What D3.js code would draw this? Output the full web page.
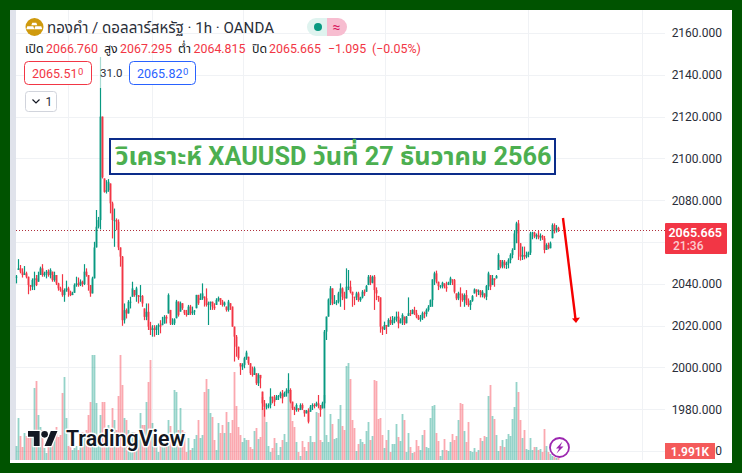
<!DOCTYPE html>
<html><head><meta charset="utf-8">
<style>
html,body{margin:0;padding:0;background:#005300;}
svg{display:block;}
text{font-family:Roboto,"Noto Sans","Noto Sans Thai",sans-serif;}
</style>
<script src="https://cdn.jsdelivr.net/npm/d3@7"></script>
</head><body>
<svg id="c" width="742" height="473"></svg>
<script>
const priceTicks=[2160,2140,2120,2100,2080,2060,2040,2020,2000,1980,1960];
const labelTicks=[2160,2140,2120,2100,2080,2040,2020,2000,1980,1960];
const gridSlots=[25.75,67.75,113.25,184.25,255.75,312.75];
const highs=[
2044.2,2051.8,2049,2047.4,2048.5,2045.8,2043.4,2039.4,2042.6,2045.8,
2044.2,2045.8,2048.2,2049.4,2045.8,2046.6,2046.9,2047.4,2045.8,2045.8,
2044.2,2040.5,2038.6,2044.6,2037.8,2041.5,2038.6,2036.7,2036.2,2040.2,
2043.4,2043,2042.1,2041.5,2049.4,2047.4,2044.2,2039.4,2043.4,2060.1,
2075.3,2072,2148.5,2120,2090.4,2089.6,2090.1,2088,2079.3,2076,
2071.3,2070.8,2057.4,2053.3,2030.6,2028.2,2032.2,2033.8,2041,2037,
2038.6,2034.6,2039.4,2034.6,2028.2,2030.6,2030.6,2021.8,2020.2,2020.2,
2020.2,2021,2022.6,2024.2,2025,2025,2035.4,2027.5,2023.5,2023.5,
2032.3,2031.5,2031.5,2030.7,2027.5,2027.5,2029.9,2029.9,2029.1,2027.5,
2034.7,2034.7,2035.4,2040.2,2033.9,2037.8,2031.5,2031.5,2031.5,2030.7,
2033.1,2033.9,2033.1,2032.3,2031.5,2029.1,2032.3,2030.7,2029.1,2019.5,
2015.5,2009.9,2002,2002,2005.1,2008,2005.1,2002,2000.4,2000.4,
1997.2,1997.2,1996.4,1988.4,1984.4,1982.8,1982.8,1990,1986,1986.8,
1986.8,1986.8,1988.4,1989.2,1988.4,1990,1997.2,1990,1983.6,1981.2,
1982.8,1980.4,1982.8,1982.8,1979.6,1979.6,1980.4,1982,1982.8,1982.8,
1983.6,1986.8,1982,1983.6,2017.9,2024.3,2033,2038.9,2037.8,2034.6,
2032.2,2036.2,2040.2,2038.3,2036.2,2047.4,2046.6,2041.5,2036.2,2033.8,
2036.2,2036.2,2033.8,2037,2037.3,2039.4,2044.2,2044.2,2043.9,2044.2,
2038.3,2034.2,2033.5,2019.5,2021.9,2020.3,2023.5,2024.3,2024.6,2024.3,
2026.7,2026.7,2023.5,2025.9,2024.3,2024.6,2033.5,2027.5,2027.8,2029,
2027.5,2025.1,2025.1,2026.7,2026.7,2028.2,2029.8,2032.5,2042.1,2045.8,
2046.3,2041,2039.4,2041,2040.2,2041,2041,2043.4,2042.1,2042.3,
2035.4,2036.2,2038.3,2035.4,2035.4,2037,2033,2032.2,2034.6,2037.8,
2037.3,2037.3,2037,2037,2035.4,2039.4,2045.8,2044.2,2044.2,2042.6,
2044.2,2054.6,2051.4,2051.4,2051.4,2050.6,2052.2,2054.6,2057,2065.7,
2069.7,2070.5,2059.4,2057.8,2057.8,2055.4,2055.4,2064.9,2064.9,2064.9,
2064.1,2065.4,2064.1,2063.4,2062.9,2059.4,2059.7,2060.2,2068.9,2068.9,2068.1,2067.295];
const lows=[
2040.2,2046.6,2045,2043,2044.2,2042.6,2035,2036.7,2037,2037,
2038.9,2041,2044.2,2043.4,2043.4,2042.6,2043.4,2042.6,2041,2041,
2039.4,2036.7,2036.2,2033.8,2031.4,2036.2,2033.8,2034.1,2034.6,2035.7,
2038.6,2038.6,2038.9,2038.6,2039.4,2043.4,2036.7,2033.8,2035.4,2042.6,
2057.4,2066.5,2066,2090.4,2083.6,2083.2,2084,2073.7,2061.7,2057.7,
2065.7,2056.1,2048.2,2019.9,2021,2023.4,2025.8,2028.2,2033.8,2033.8,
2031.4,2030.6,2031.4,2029,2022.6,2022.6,2017.9,2015.5,2014.7,2014.7,
2015.5,2015.5,2016.3,2020.2,2021,2021,2025.8,2020.3,2020.3,2020.3,
2023.5,2024.3,2026.7,2027.5,2025.1,2024.3,2025.1,2025.1,2025.1,2025.1,
2028.3,2029.9,2032.3,2032.3,2029.1,2029.1,2020.3,2027.5,2027.5,2027.5,
2029.9,2031.5,2029.9,2029.1,2029.1,2026.7,2026.7,2027.5,2019.5,2002.8,
2005.1,2003.6,1996.4,1998.8,1999.6,2003.6,2001.2,1996.4,1995.6,1996.4,
1991.6,1991.1,1990,1979.6,1976.4,1979.9,1980.4,1980.4,1982.8,1981.5,
1984.4,1984.4,1985.2,1982.8,1986,1986,1987.6,1982.8,1979.6,1977.2,
1978.8,1978.8,1979.6,1979.6,1976.4,1978,1973.2,1978.8,1979.6,1980.4,
1981.2,1980.4,1976.4,1980.4,1980.4,2013.1,2024.3,2029.8,2029.8,2030.3,
2029.8,2030.6,2029,2032.2,2027.5,2033,2037,2035.4,2029,2029.8,
2032.2,2031.4,2031.4,2033,2034.2,2036.2,2039.4,2039.4,2040.2,2027.5,
2032.2,2031.4,2016.6,2015.5,2017.9,2016,2019.5,2020.3,2020.3,2021.1,
2021.9,2018.7,2021.1,2020.3,2020.3,2021.1,2024.6,2024.6,2025.5,2025.1,
2023.5,2022.7,2021.9,2022.7,2023.5,2024.3,2026.7,2029,2029,2039.4,
2040.2,2037,2037.8,2037.8,2037.8,2036.2,2039.4,2039.4,2039.4,2035.4,
2032.2,2032.2,2029,2031.4,2029,2029.8,2029,2027.5,2031.4,2035.4,
2033.8,2034.6,2033.5,2033.5,2033,2032.2,2037,2037,2039.4,2038.6,
2042.6,2046.6,2047.4,2047.4,2047.4,2047.1,2047.4,2049.8,2052.2,2056.2,
2059.4,2051.4,2051.1,2051.4,2051.7,2052.2,2052.7,2053.8,2061.3,2061.8,
2061.3,2061.3,2060.6,2061,2054.6,2056.2,2056.5,2057,2061.8,2064.1,2064.5,2064.815];
const closes=[
2043.4,2047.4,2045.8,2044.2,2045,2043.4,2039.4,2038.6,2041.8,2042.6,
2039.4,2044.2,2047.4,2044.2,2045,2045.8,2044.2,2046.6,2041.8,2044.2,
2040.2,2037.8,2037,2034.6,2037,2037.8,2036.2,2034.6,2035.4,2039.4,
2040.2,2039.4,2041,2039.9,2045.8,2044.2,2039.4,2035.4,2042.6,2057.4,
2067.3,2070.5,2120,2091,2084,2084.8,2088.8,2078.5,2070.5,2070.5,
2069.7,2057.4,2053,2022.6,2027.4,2025.8,2031.4,2031.4,2037.8,2034.6,
2037.8,2033.8,2034.1,2030.6,2024.2,2026.6,2019.5,2017.9,2018.7,2017.9,
2019.5,2020.2,2019.5,2021,2024.2,2023.4,2034.6,2021.1,2021.1,2023,
2031.5,2025.1,2030.7,2028.3,2025.9,2025.1,2029.1,2025.9,2026.7,2027.2,
2034.7,2030.7,2033.1,2035.4,2033.1,2029.9,2030.7,2031.4,2029.1,2028.3,
2032.3,2033.1,2031.5,2029.9,2031,2027.5,2031.5,2029.1,2019.5,2014.7,
2009.9,2004.4,2000.4,2001.2,2004.4,2007.1,2002,1997.2,1996.4,1999.6,
1992.4,1996.4,1994.8,1982.8,1981.2,1981.2,1982,1986,1985.2,1983.6,
1986,1986.3,1987.6,1985.2,1987.6,1988.9,1989.2,1983.6,1980.4,1979.6,
1982,1979.6,1982,1980.4,1978,1979.3,1974,1981.2,1982,1981.5,
1982.8,1982,1979.6,1982.8,2017.1,2024.3,2032.5,2037.8,2030.6,2031,
2031.4,2035.4,2037.8,2033.8,2033,2038.6,2038.6,2036.2,2034.6,2033.5,
2035.4,2032.2,2033.5,2036.2,2035.4,2038.9,2043.4,2040.5,2043.4,2037,
2035.4,2033.5,2019.5,2018.2,2020.3,2019.5,2022.7,2021.1,2022.7,2023.5,
2024.3,2021.1,2022.7,2025.1,2021.1,2024.3,2025.9,2025.5,2027.5,2025.9,
2024.3,2023,2023.5,2025.9,2025.5,2027.5,2029,2032.2,2042.1,2045,
2041,2038.9,2038.9,2040.5,2038.6,2037.8,2040.5,2042.6,2041.8,2036.2,
2033,2035.4,2034.6,2032.2,2034.6,2030.6,2029.8,2031.9,2034.1,2037.3,
2036.2,2036.7,2034.6,2036.2,2033.8,2038.9,2045,2038.6,2042.6,2041.8,
2043.7,2053.8,2048.2,2050.6,2049,2049.8,2051.4,2053.8,2056.2,2064.1,
2068.9,2059.4,2053,2053.8,2053,2053.8,2054.9,2064.1,2064.5,2062.6,
2063.4,2062.2,2062.9,2061.8,2056.2,2058.6,2057,2059.4,2068.1,2065.4,2066.76,2065.665];
const volumes=[
14,42,24,13,27,24,27,25,24,72,
79,45,33,30,12,7,20,23,22,25,
33,23,25,67,83,42,14,15,10,12,
14,10,15,28,25,30,45,58,105,105,
57,25,45,58,58,14,35,25,52,40,
30,64,105,75,42,40,30,26,28,28,
12,20,47,35,35,58,78,100,37,20,
14,8,15,25,15,18,40,34,25,70,
68,30,52,30,28,8,22,10,12,21,
25,40,22,25,68,81,71,47,43,20,
10,37,27,35,27,48,38,27,40,88,
54,33,25,18,22,20,20,13,11,29,
32,21,23,63,52,38,14,8,12,22,
17,5,13,20,26,18,80,70,39,33,
18,8,4,19,13,9,18,24,18,18,
48,47,20,18,65,25,18,46,36,21,
22,41,55,34,30,94,97,81,40,32,
9,16,21,18,16,29,38,20,24,80,
79,41,42,25,12,20,30,8,16,16,
36,23,19,46,40,8,27,13,7,8,
20,14,10,25,30,13,12,42,54,55,
27,19,4,10,21,10,9,18,26,20,
24,40,57,56,29,18,38,9,8,12,
8,10,22,19,24,23,64,75,44,41,
25,9,14,20,13,21,26,24,41,53,
78,68,40,22,30,11,10,22,10,13,
13,10,11,8,31,14,8,6,4,3,2,1.991];
const firstOpen=2043.0;
const lastPrice=2065.665;

const UP="#089981",DOWN="#f23645";
const svg=d3.select("#c");
const FONT='Roboto,"Noto Sans","Noto Sans Thai",sans-serif';

svg.append("rect").attr("width",742).attr("height",473).attr("fill","#005300");
svg.append("rect").attr("x",10).attr("y",10).attr("width",722).attr("height",453).attr("fill","#fff");
svg.append("rect").attr("x",10).attr("y",10).attr("width",6).attr("height",450).attr("fill","#e0e3eb");

const x=d3.scaleLinear().domain([0,closes.length-1]).range([16.5,558.5]);
const y=d3.scaleLinear().domain([1960,2160]).range([451,33]);
const yVol=d3.scaleLinear().domain([0,110]).range([460,350]);
const PLOT_R=665;

// grid
const grid=svg.append("g").attr("stroke","#f0f2f5").attr("stroke-width",1);
grid.selectAll(".h").data(priceTicks).join("line").attr("x1",16).attr("x2",PLOT_R)
  .attr("y1",d=>Math.round(y(d))+.5).attr("y2",d=>Math.round(y(d))+.5);
grid.selectAll(".v").data(gridSlots).join("line").attr("y1",10).attr("y2",460)
  .attr("x1",d=>Math.round(x(d))+.5).attr("x2",d=>Math.round(x(d))+.5);

const opens=closes.map((c,i)=>i?closes[i-1]:firstOpen);
const isUp=i=>closes[i]>=opens[i];

// volume
svg.append("g").selectAll("rect").data(volumes).join("rect")
  .attr("x",(d,i)=>x(i)-.9).attr("width",1.8)
  .attr("y",d=>yVol(d)).attr("height",d=>yVol(0)-yVol(d))
  .attr("fill",(d,i)=>isUp(i)?"rgba(8,153,129,.43)":"rgba(247,82,95,.5)");

// last price line
const lpY=Math.round(y(lastPrice))+.5;
svg.append("line").attr("x1",16).attr("x2",PLOT_R).attr("y1",lpY).attr("y2",lpY)
  .attr("stroke","#b0303c").attr("stroke-width",1).attr("stroke-dasharray","1 2");

// candles
const cg=svg.append("g");
cg.selectAll("line").data(closes).join("line")
  .attr("x1",(d,i)=>x(i)).attr("x2",(d,i)=>x(i))
  .attr("y1",(d,i)=>y(highs[i])).attr("y2",(d,i)=>y(lows[i]))
  .attr("stroke",(d,i)=>isUp(i)?UP:DOWN).attr("stroke-width",1.2);
const clampP=(v,i)=>Math.min(highs[i],Math.max(lows[i],v));
cg.selectAll("rect").data(closes).join("rect")
  .attr("x",(d,i)=>x(i)-.9).attr("width",1.8)
  .attr("y",(d,i)=>y(clampP(Math.max(opens[i],closes[i]),i)))
  .attr("height",(d,i)=>Math.max(.8,y(clampP(Math.min(opens[i],closes[i]),i))-y(clampP(Math.max(opens[i],closes[i]),i))))
  .attr("fill",(d,i)=>isUp(i)?UP:DOWN);

// price axis: 2060 sits fully behind the price label, 1960 shows only its last digit
const fmt=d3.format(".3f");
const axis=d3.axisRight(y).tickValues(labelTicks).tickSize(0).tickPadding(0)
  .tickFormat(d=>d===1960?fmt(d).slice(-1):fmt(d));
const ag=svg.append("g").attr("transform","translate(722,0)").call(axis);
ag.select(".domain").remove();
ag.selectAll("text").attr("text-anchor","end").attr("x",0).attr("fill","#2a2e39")
  .style("font-family",FONT).style("font-size","12px");

// last price label
svg.append("rect").attr("x",665).attr("y",223).attr("width",62).attr("height",31).attr("rx",1).attr("fill",DOWN);
svg.append("text").attr("x",722).attr("y",236.5).attr("text-anchor","end").attr("fill","#fff").attr("font-size",12.5).attr("font-weight",600).text("2065.665");
svg.append("text").attr("x",673).attr("y",250).attr("fill","#fff").attr("fill-opacity",.75).attr("font-size",12).attr("font-weight",500).text("21:36");
// volume label
svg.append("rect").attr("x",665).attr("y",443).attr("width",50).attr("height",16).attr("fill","#f45a5a");
svg.append("text").attr("x",690).attr("y",455.5).attr("text-anchor","middle").attr("fill","#fff").attr("font-size",12).attr("font-weight",600).text("1.991K");

// legend veil over spike
svg.append("rect").attr("x",98).attr("y",57).attr("width",26).attr("height",31).attr("fill","#fff").attr("fill-opacity",.65);

// header
svg.append("circle").attr("cx",34.5).attr("cy",27).attr("r",9).attr("fill","#cf9a0e");
svg.append("path").attr("d","M32.5 22.5h4l1 2.5h-6zM27.5 26h6l1 3h-8zM35.5 26h6l1 3h-8z").attr("transform","translate(-.2,.3)").attr("fill","#fff");
svg.append("text").attr("x",47).attr("y",33).attr("font-size",15.1).attr("fill","#2a2e39").text("ทองคำ / ดอลลาร์สหรัฐ · 1h · OANDA");
svg.append("path").attr("d","M316 18h11v18h-11a9 9 0 0 1 0-18z").attr("fill","#dff3ef");
svg.append("path").attr("d","M327 18h11a9 9 0 0 1 0 18h-11z").attr("fill","#f7bdd0");
svg.append("circle").attr("cx",318).attr("cy",27).attr("r",4).attr("fill",UP);
svg.append("text").attr("x",336.5).attr("y",32).attr("text-anchor","middle").attr("font-size",14).attr("fill","#d81b60").text("≈");

const legendText=[["เปิด",25,"#131722"],["2066.760",46,DOWN],["สูง",104,"#131722"],["2067.295",120,DOWN],["ต่ำ",178,"#131722"],["2064.815",193.5,DOWN],["ปิด",252,"#131722"],["2065.665",269,DOWN],["−1.095",328,DOWN],["(−0.05%)",372,DOWN]];
svg.append("g").selectAll("text").data(legendText).join("text")
  .attr("x",d=>d[1]).attr("y",53).attr("font-size",12.4).attr("fill",d=>d[2]).text(d=>d[0]);

// buy/sell boxes
function box(x0,w,col,val){
  svg.append("rect").attr("x",x0+.5).attr("y",61.5).attr("width",w).attr("height",23).attr("rx",4).attr("fill","#fff").attr("stroke",col);
  svg.append("text").attr("x",x0+8).attr("y",78).attr("font-size",12.5).attr("fill",col).text(val);
  svg.append("text").attr("x",x0+54).attr("y",75).attr("font-size",9.5).attr("fill",col).text("0");
}
box(24,67,DOWN,"2065.51");
box(129,66,"#2962ff","2065.82");
svg.append("text").attr("x",100).attr("y",77).attr("font-size",11.5).attr("fill","#2a2e39").text("31.0");
svg.append("rect").attr("x",25.5).attr("y",91.5).attr("width",31).attr("height",20).attr("rx",3).attr("fill","#fff").attr("stroke","#d1d4dc");
svg.append("path").attr("d","M32.5 99.5l3.5 3.5 3.5-3.5").attr("fill","none").attr("stroke","#131722").attr("stroke-width",1.2);
svg.append("text").attr("x",45.5).attr("y",106).attr("font-size",12).attr("fill","#2a2e39").text("1");

// annotation
svg.append("rect").attr("x",110).attr("y",139).attr("width",445).attr("height",35).attr("fill","#fff").attr("stroke","#0c2c8a").attr("stroke-width",2);
svg.append("text").attr("x",333.5).attr("y",165).attr("text-anchor","middle").attr("font-size",25.3).attr("font-weight",700).attr("fill","#4caf50").text("วิเคราะห์ XAUUSD วันที่ 27 ธันวาคม 2566");

// arrow
svg.append("line").attr("x1",563).attr("y1",218).attr("x2",575.5).attr("y2",319).attr("stroke","#f50000").attr("stroke-width",2.4);
svg.append("path").attr("d","M572 318.5L580 317.5L576 323Z").attr("fill","#f50000");

// logo
const logo=svg.append("g").attr("transform","translate(28,427.7) scale(.83)");
logo.append("path").attr("d","M14 22H7V11H0V4h14v18zM28 22h-8l7.5-18h8L28 22z").attr("fill","#131722").attr("stroke","#fff").attr("stroke-width",3).attr("paint-order","stroke");
logo.append("circle").attr("cx",20).attr("cy",8).attr("r",4).attr("fill","#131722").attr("stroke","#fff").attr("stroke-width",3).attr("paint-order","stroke");
svg.append("text").attr("x",66).attr("y",446).attr("font-size",21.3).attr("font-weight",600).attr("fill","#131722")
  .attr("stroke","#fff").attr("stroke-width",3).attr("paint-order","stroke").attr("stroke-linejoin","round").text("TradingView");

// lightning
svg.append("circle").attr("cx",559.5).attr("cy",447.5).attr("r",9.5).attr("fill","#fff").attr("stroke","#9c27b0").attr("stroke-width",1.8);
svg.append("path").attr("d","M562.5 441.5L556 448.5h3.2L556.5 453.5L563.5 446.5h-3.3z").attr("fill","#9c27b0");
</script>
</body></html>
